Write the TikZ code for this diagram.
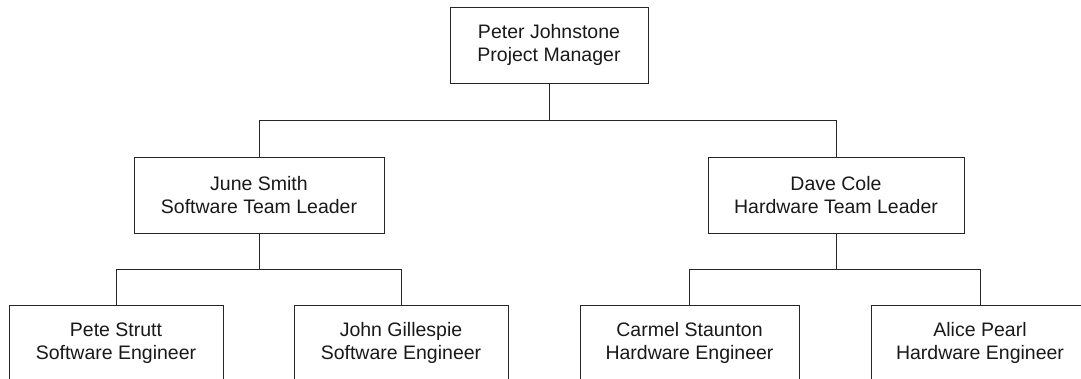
\documentclass[tikz,border=0pt]{standalone}
\usepackage{fontspec}
\setmainfont{Liberation Sans}
\begin{document}
\begin{tikzpicture}[x=1pt,y=-1pt,
  person/.style={draw=black!85,line width=1pt,fill=white,rectangle,align=center,
    minimum height=76pt,inner sep=0pt,font=\fontsize{19.5}{22.5}\selectfont,text=black!90},
  link/.style={draw=black!85,line width=1pt}]
\useasboundingbox (0,0) rectangle (1081,378);
\clip (0,0) rectangle (1081,378);
\node[person,minimum width=198pt] (pm) at (549,45) {Peter Johnstone\\Project Manager};
\node[person,minimum width=250pt] (june) at (259,195) {June Smith\\Software Team Leader};
\node[person,minimum width=256pt] (dave) at (836,195) {Dave Cole\\Hardware Team Leader};
\node[person,minimum width=214pt] (pete) at (116,343) {Pete Strutt\\Software Engineer};
\node[person,minimum width=214pt] (john) at (401,343) {John Gillespie\\Software Engineer};
\node[person,minimum width=219pt] (carmel) at (689.5,343) {Carmel Staunton\\Hardware Engineer};
\node[person,minimum width=218pt] (alice) at (980,343) {Alice Pearl\\Hardware Engineer};
\draw[link] (pm.south) -- ++(0,37) -| (june.north);
\draw[link] (pm.south) -- ++(0,37) -| (dave.north);
\draw[link] (june.south) -- ++(0,36) -| (pete.north);
\draw[link] (june.south) -- ++(0,36) -| (john.north);
\draw[link] (dave.south) -- ++(0,36) -| (carmel.north);
\draw[link] (dave.south) -- ++(0,36) -| (alice.north);
\end{tikzpicture}
\end{document}
